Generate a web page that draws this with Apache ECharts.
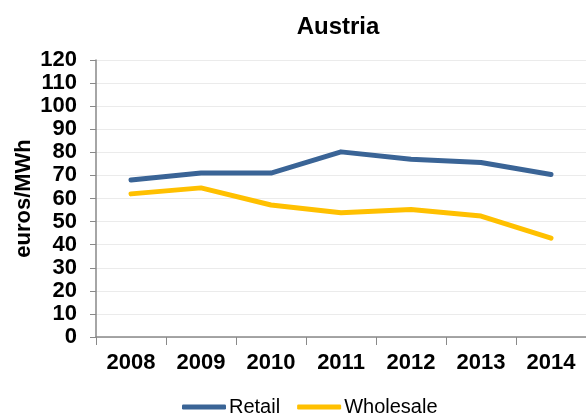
<!DOCTYPE html>
<html>
<head>
<meta charset="utf-8">
<title>Austria</title>
<script src="https://cdn.jsdelivr.net/npm/echarts@6/dist/echarts.min.js"></script>
</head>
<body style="margin:0">
<div id="main" style="width:586px;height:417px;"></div>
<script type="text/javascript">
var years = ['2008', '2009', '2010', '2011', '2012', '2013', '2014'];
var retail = [68, 71, 71, 80.2, 77, 75.6, 70.4];
var wholesale = [62, 64.6, 57.2, 53.8, 55.2, 52.4, 42.8];

var chart = echarts.init(document.getElementById('main'));
var font = 'Liberation Sans, Arial, sans-serif';

var option = {
    animation: false,
    title: {
        text: 'Austria',
        left: 333,
        textAlign: 'center',
        top: 10,
        textStyle: { fontFamily: font, fontSize: 24, fontWeight: 'bold', color: '#000' }
    },
    legend: {
        top: 392,
        left: 177,
        itemWidth: 44,
        itemHeight: 5,
        itemGap: 17,
        icon: 'roundRect',
        textStyle: { fontFamily: font, fontSize: 20, color: '#000', padding: [0, 0, 0, -2] },
        data: ['Retail', 'Wholesale']
    },
    grid: { left: 96, right: -3, top: 60, bottom: 80, containLabel: false },
    xAxis: {
        type: 'category',
        data: years,
        boundaryGap: true,
        axisLine: { lineStyle: { color: '#898989', width: 1.5 } },
        axisTick: { show: true, length: 8, lineStyle: { color: '#898989' } },
        axisLabel: { fontFamily: font, fontSize: 22, fontWeight: 'bold', color: '#000', margin: 15 }
    },
    yAxis: {
        type: 'value',
        min: 0,
        max: 120,
        interval: 10,
        name: 'euros/MWh',
        nameLocation: 'middle',
        nameGap: 72,
        nameRotate: 90,
        nameMoveOverlap: false,
        nameTextStyle: { fontFamily: font, fontSize: 22, fontWeight: 'bold', color: '#000', verticalAlign: 'middle' },
        axisLine: { show: true, lineStyle: { color: '#898989', width: 1.5 } },
        axisTick: { show: true, length: 6, lineStyle: { color: '#898989' } },
        splitLine: { lineStyle: { color: '#ebebeb', width: 1 } },
        axisLabel: { fontFamily: font, fontSize: 22, fontWeight: 'bold', color: '#000', margin: 19 }
    },
    series: [
        {
            name: 'Retail',
            type: 'line',
            data: retail,
            symbol: 'none',
            color: '#3a6496',
            lineStyle: { width: 5, color: '#3a6496', cap: 'round', join: 'round' }
        },
        {
            name: 'Wholesale',
            type: 'line',
            data: wholesale,
            symbol: 'none',
            color: '#ffc000',
            lineStyle: { width: 5, color: '#ffc000', cap: 'round', join: 'round' }
        }
    ]
};

chart.setOption(option);
</script>
</body>
</html>
